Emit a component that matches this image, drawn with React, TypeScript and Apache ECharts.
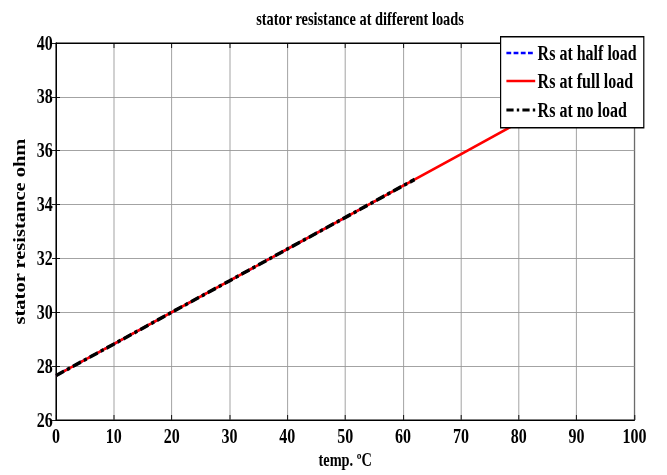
import React, { useEffect, useRef } from "react";
import * as echarts from "echarts";

const temps = [0, 10, 20, 30, 40, 50, 60, 62, 70, 80, 90, 100];
const fullLoad = [27.65, 28.82, 30.0, 31.17, 32.35, 33.52, 34.7, 34.93, 35.87, 37.05, 38.22, 39.4];
const halfTemps = [0, 10, 20, 30, 40, 50, 60, 62];
const halfLoad = [27.65, 28.82, 30.0, 31.17, 32.35, 33.52, 34.7, 34.93];
const noLoad = [27.65, 28.82, 30.0, 31.17, 32.35, 33.52, 34.7, 34.93];
const legendNames = ["Rs at half load", "Rs at full load", "Rs at no load"];
const FONT = "'Liberation Serif', 'Times New Roman', serif";

const SX = 0.8; // horizontal squash of the original figure
const W = 834;
const H = 475;

export default function App() {
  const ref = useRef<HTMLDivElement>(null);
  useEffect(() => {
    const chart = echarts.init(ref.current!, null, { renderer: "svg" });
    const pair = (xs: number[], ys: number[]) => xs.map((x, i) => [x, ys[i]]);
    const axisCommon = {
      axisLine: { show: true, lineStyle: { color: "#000", width: 1.2 } },
      axisTick: { show: true, inside: true, length: 5, lineStyle: { color: "#000" } },
    };
    const legendRows = [53, 81, 110];
    const legendStyles = [
      { stroke: "#0000ff", lineDash: [6, 3], lineWidth: 2.5 },
      { stroke: "#ff0000", lineDash: null, lineWidth: 2.5 },
      { stroke: "#000000", lineDash: [9, 4, 3, 4], lineWidth: 3.2 },
    ];
    const lx = 625;
    chart.setOption({
      animation: false,
      grid: { left: 70, right: 41, top: 43, bottom: 55, show: true, borderColor: "#000", borderWidth: 1.2 },
      xAxis: [
        {
          type: "value", min: 0, max: 100, interval: 10,
          ...axisCommon,
          axisLabel: { color: "#000", fontFamily: FONT, fontWeight: "bold", fontSize: 20, margin: 6 },
          splitLine: { show: true, lineStyle: { color: "#999", width: 1 } },
          name: "temp. ºC", nameLocation: "middle", nameGap: 31,
          nameTextStyle: { color: "#000", fontFamily: FONT, fontWeight: "bold", fontSize: 18 },
        },
        {
          type: "value", min: 0, max: 100, interval: 10, position: "top",
          ...axisCommon, axisLabel: { show: false }, splitLine: { show: false },
        },
      ],
      yAxis: [
        {
          type: "value", min: 26, max: 40, interval: 2,
          ...axisCommon,
          axisLabel: { color: "#000", fontFamily: FONT, fontWeight: "bold", fontSize: 20, margin: 4 },
          splitLine: { show: true, lineStyle: { color: "#999", width: 1 } },
          name: "stator resistance ohm", nameLocation: "middle", nameGap: 29,
          nameTextStyle: { color: "#000", fontFamily: FONT, fontWeight: "bold", fontSize: 20.5 },
        },
        {
          type: "value", min: 26, max: 40, interval: 2, position: "right",
          ...axisCommon, axisLabel: { show: false }, splitLine: { show: false },
        },
      ],
      title: {
        text: "stator resistance at different loads", left: 445, top: 5, textAlign: "center",
        textStyle: { color: "#000", fontFamily: FONT, fontWeight: "bold", fontSize: 18 },
      },
      series: [
        {
          name: legendNames[0], type: "line", data: pair(halfTemps, halfLoad), symbol: "none",
          lineStyle: { color: "#0000ff", width: 2.5, type: [7, 4] },
        },
        {
          name: legendNames[1], type: "line", data: pair(temps, fullLoad), symbol: "none",
          lineStyle: { color: "#ff0000", width: 2.6 },
        },
        {
          name: legendNames[2], type: "line", data: pair(halfTemps, noLoad), symbol: "none",
          lineStyle: { color: "#000000", width: 3.6, type: [11, 4, 4, 4] },
        },
      ],
      graphic: [
        {
          type: "rect", left: lx, top: 36, z: 100,
          shape: { width: 179, height: 91 },
          style: { fill: "#fff", stroke: "#000", lineWidth: 1.5 },
        },
        ...legendNames.flatMap((n, i) => [
          {
            type: "line", z: 101,
            shape: { x1: lx + 8, y1: legendRows[i], x2: lx + 44, y2: legendRows[i] },
            style: legendStyles[i],
          },
          {
            type: "text", x: lx + 47, y: legendRows[i], z: 101,
            style: {
              text: n, fill: "#000", font: `bold 20px ${FONT}`, textVerticalAlign: "middle",
            },
          },
        ]),
      ],
    });
    return () => chart.dispose();
  }, []);
  return (
    <div style={{ position: "fixed", left: 0, top: 0, width: 667, height: H, overflow: "hidden" }}>
      <div
        ref={ref}
        style={{ width: W, height: H, transform: `scaleX(${SX})`, transformOrigin: "0 0" }}
      />
    </div>
  );
}
